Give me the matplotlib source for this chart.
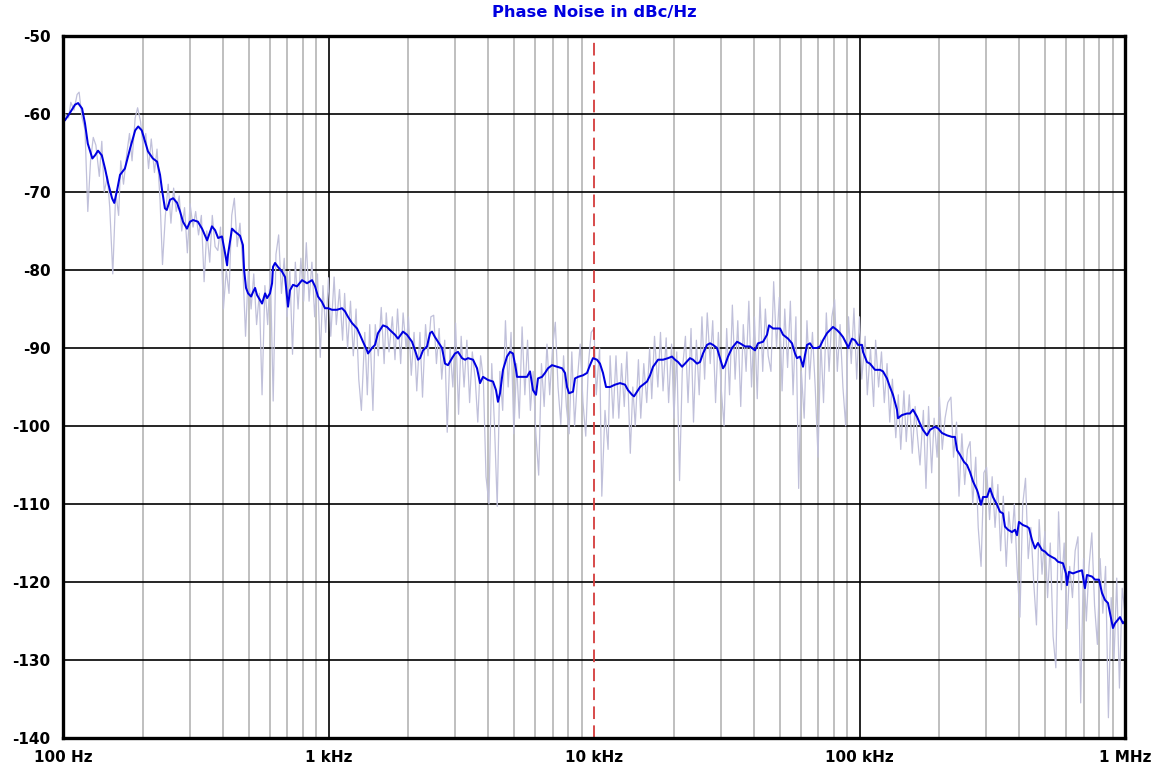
import matplotlib
matplotlib.use('Agg')
import matplotlib.pyplot as plt
from matplotlib.ticker import NullLocator

# ---------------- data ----------------
blue_freq = [
    100, 101.7, 106, 111, 114, 118, 121, 124, 129, 132,
    135.5, 140, 144, 148, 153, 156, 160, 164, 171, 179,
    187, 192, 198, 204, 209, 218, 226, 232, 236, 242,
    246, 253, 260, 269, 276, 283, 293, 301, 309, 322,
    334, 349, 364, 374, 384, 397, 408, 415, 418, 433,
    445, 464, 476, 481, 489, 498, 511, 520, 529, 538,
    562, 577, 587, 602, 613, 618, 629, 645, 668, 686,
    698, 704, 716, 735, 761, 795, 830, 867, 890, 913,
    945, 970, 996, 1031, 1076, 1124, 1154, 1184, 1226, 1281,
    1314, 1349, 1396, 1409, 1458, 1497, 1536, 1604, 1661, 1704,
    1780, 1827, 1908, 1975, 2063, 2118, 2174, 2212, 2270, 2350,
    2412, 2454, 2518, 2585, 2676, 2747, 2819, 2919, 2996, 3074,
    3184, 3268, 3354, 3503, 3626, 3721, 3819, 3988, 4165, 4275,
    4349, 4426, 4542, 4702, 4826, 4953, 5084, 5129, 5356, 5593,
    5741, 5892, 6047, 6152, 6370, 6538, 6710, 6948, 7255, 7578,
    7777, 7913, 8051, 8336, 8481, 8705, 9092, 9412, 9658, 9913,
    10260, 10530, 10810, 11100, 11490, 12000, 12530, 13090, 13430, 13910,
    14150, 14520, 14910, 15300, 15840, 16260, 16690, 17430, 18200, 19010,
    19670, 20190, 20730, 21460, 22020, 22990, 23600, 24430, 25080, 25740,
    26650, 27350, 28070, 29060, 29830, 30610, 31150, 31970, 33100, 34570,
    35480, 37060, 38690, 40410, 41470, 43320, 44840, 45630, 47240, 50200,
    51520, 53800, 55690, 57160, 58160, 59690, 61270, 62330, 63430, 65100,
    66820, 69170, 71000, 72870, 75440, 77430, 79480, 82280, 84450, 86680,
    89750, 90520, 93710, 96160, 98700, 102200, 103100, 106700, 109500, 114400,
    119500, 122600, 126900, 130200, 133700, 138400, 139600, 144500, 151000, 154900,
    159000, 164600, 169000, 173400, 179600, 184300, 192400, 197500, 204500, 213600,
    223100, 228900, 233000, 239100, 247500, 254100, 260700, 267600, 277000, 279500,
    286900, 291900, 302200, 310100, 318200, 329500, 338200, 347100, 353200, 362500,
    375200, 385100, 391900, 398700, 412800, 427400, 434900, 446300, 458100, 470100,
    486700, 499500, 512700, 530700, 544700, 559100, 584000, 599400, 604600, 615200,
    636800, 659300, 688500, 700600, 706700, 719100, 751000, 770800, 798000, 819000,
    840600, 862800, 877900, 901000, 916800, 957500, 982600, 1000000,
]
blue_dbc = [
    -61.0, -60.8, -59.9, -58.8, -58.6, -59.3, -61.2, -63.8, -65.7, -65.3,
    -64.7, -65.3, -67.0, -68.9, -70.8, -71.4, -69.7, -67.8, -67.0, -64.4,
    -62.1, -61.6, -62.1, -63.6, -64.8, -65.7, -66.1, -67.8, -69.7, -72.1,
    -72.3, -71.0, -70.8, -71.4, -72.5, -73.8, -74.7, -73.8, -73.6, -73.8,
    -74.7, -76.2, -74.4, -74.9, -75.9, -75.7, -77.9, -79.4, -78.1, -74.7,
    -75.1, -75.6, -76.8, -80.0, -82.3, -83.0, -83.4, -82.8, -82.3, -83.2,
    -84.3, -83.0, -83.6, -83.0, -81.7, -79.6, -79.1, -79.6, -80.2, -80.9,
    -83.4, -84.7, -82.6, -81.9, -82.1, -81.3, -81.7, -81.3, -82.1, -83.4,
    -84.1, -84.9, -84.9, -85.1, -85.1, -84.9, -85.3, -86.0, -86.8, -87.5,
    -88.3, -89.2, -90.3, -90.7, -90.0, -89.6, -88.1, -87.1, -87.3, -87.7,
    -88.3, -88.8, -87.9, -88.3, -89.2, -90.3, -91.5, -91.3, -90.3, -89.8,
    -88.1, -87.9, -88.6, -89.2, -90.0, -92.0, -92.2, -91.3, -90.7, -90.5,
    -91.3, -91.5, -91.3, -91.5, -92.6, -94.5, -93.7, -94.1, -94.3, -95.4,
    -96.9, -95.8, -92.8, -91.1, -90.5, -90.7, -92.8, -93.7, -93.7, -93.7,
    -93.0, -95.4, -96.0, -93.9, -93.7, -93.2, -92.6, -92.2, -92.4, -92.6,
    -93.2, -95.0, -95.8, -95.6, -93.9, -93.7, -93.5, -93.2, -92.2, -91.3,
    -91.5, -92.0, -93.2, -95.0, -95.0, -94.7, -94.5, -94.7, -95.4, -96.0,
    -96.2, -95.6, -95.0, -94.7, -94.3, -93.5, -92.4, -91.5, -91.5, -91.3,
    -91.1, -91.5, -91.8, -92.4, -92.0, -91.3, -91.5, -92.0, -91.8, -90.7,
    -89.6, -89.4, -89.6, -90.0, -91.3, -92.6, -92.2, -91.1, -90.0, -89.2,
    -89.4, -89.8, -89.8, -90.3, -89.4, -89.2, -88.3, -87.1, -87.5, -87.5,
    -88.3, -88.8, -89.4, -90.7, -91.3, -91.1, -92.4, -90.9, -89.6, -89.4,
    -90.0, -90.0, -89.8, -89.0, -88.1, -87.7, -87.3, -87.7, -88.1, -88.6,
    -89.6, -90.0, -88.8, -89.0, -89.6, -89.6, -90.5, -91.8, -92.0, -92.8,
    -92.8, -93.0, -93.9, -95.0, -96.0, -97.9, -99.0, -98.6, -98.4, -98.4,
    -97.9, -98.8, -99.7, -100.5, -101.2, -100.5, -100.1, -100.3, -100.9, -101.2,
    -101.4, -101.4, -103.1, -103.7, -104.6, -105.0, -105.9, -107.1, -108.2, -108.6,
    -110.1, -109.1, -109.1, -108.0, -109.1, -110.1, -111.0, -111.2, -112.9, -113.3,
    -113.6, -113.3, -114.0, -112.3, -112.7, -112.9, -113.1, -114.6, -115.7, -115.0,
    -115.9, -116.1, -116.5, -116.8, -117.0, -117.4, -117.6, -118.9, -120.4, -118.7,
    -118.9, -118.7, -118.5, -120.0, -120.8, -119.1, -119.3, -119.7, -119.7, -121.4,
    -122.3, -122.7, -124.0, -125.9, -125.3, -124.5, -125.3, -125.0,
]

# raw (unsmoothed) trace, sampled on an E96 frequency grid
raw_mantissa = [
    100, 102, 105, 107, 110, 113, 115, 118, 121, 124, 127, 130, 133, 137, 140, 143,
    147, 150, 154, 158, 162, 165, 169, 174, 178, 182, 187, 191, 196, 200, 205, 210,
    215, 221, 226, 232, 237, 243, 249, 255, 261, 267, 274, 280, 287, 294, 301, 309,
    316, 324, 332, 340, 348, 357, 365, 374, 383, 392, 402, 412, 422, 432, 442, 453,
    464, 475, 487, 499, 511, 523, 536, 549, 562, 576, 590, 604, 619, 634, 649, 665,
    681, 698, 715, 732, 750, 768, 787, 806, 825, 845, 866, 887, 909, 931, 953, 976,
]
raw_decades = [1, 10, 100, 1000]
raw_dbc = [
    # 100 Hz - 1 kHz
    -61.5, -60, -60.5, -58.5, -59.5, -57.5, -57.2, -60.5,
    -62, -72.5, -66, -63, -64, -68, -63.5, -70,
    -68, -72, -80.5, -70, -73, -66, -69, -65,
    -62.5, -66, -60.5, -59.2, -61, -64, -62.5, -67,
    -63.2, -67.5, -64.5, -71, -79.3, -73, -69, -74,
    -69.5, -72.5, -70.5, -75, -72, -77.8, -71.5, -74.5,
    -72.5, -75.5, -73, -81.5, -75, -79, -73, -77,
    -77.5, -74.5, -85, -80, -83, -73, -70.8, -77,
    -74, -79, -88.5, -80, -85, -80.5, -87, -83,
    -96, -82, -87, -80, -96.8, -78, -75.5, -83,
    -78.5, -86, -80, -90.8, -79, -85, -78.5, -84,
    -76.5, -84, -79, -86, -80.5, -91.2, -82, -88,
    # 1 kHz - 10 kHz
    -81, -88.5, -80.9, -87, -82.5, -89, -83, -90,
    -84, -91, -85, -94, -98, -88, -96, -87,
    -98, -87, -91, -84.8, -92, -85.5, -90.5, -86,
    -91.5, -85, -92, -85.5, -90, -86, -93.5, -88,
    -95.5, -88, -96.3, -87, -91, -86, -85.8, -92,
    -87.5, -94, -89, -100.8, -90, -95, -86.8, -98.5,
    -88.5, -95, -89, -97, -90.5, -94, -99.5, -91,
    -94, -106.5, -110, -92, -100, -110.3, -93, -98,
    -86.5, -95, -88, -101, -92, -99, -87.3, -96,
    -89, -98, -93, -101, -106.3, -92, -97.5, -89.5,
    -96, -90, -86.7, -95, -99.8, -91, -97.5, -101,
    -90.5, -100, -94, -89.5, -97, -101.3, -92, -88,
    # 10 kHz - 100 kHz
    -87.5, -96, -90, -109, -98, -103, -91, -99,
    -91, -99, -92, -97.5, -90.5, -103.5, -95, -100,
    -91.5, -99, -92, -97, -90, -96.5, -88.5, -95,
    -88, -95.5, -88.7, -97, -89.5, -99, -90.5, -107,
    -93, -88.5, -97, -87.5, -99.5, -89, -96, -86,
    -94, -85.5, -92, -86.5, -97, -88, -95, -100,
    -87.5, -96, -84.5, -94, -86.5, -97.5, -87, -93,
    -84, -95, -86, -96.5, -83.5, -93, -85, -91,
    -93, -81.5, -90, -83.5, -95.5, -85, -92.5, -84,
    -96, -86, -108, -93, -99, -86.5, -94, -88,
    -95, -104, -89, -97, -85.5, -93, -86, -83.8,
    -93, -87, -95, -100, -86, -92, -84.9, -94,
    # 100 kHz - 1 MHz
    -86, -94, -88.5, -96, -90, -97.5, -89, -95,
    -90.5, -97, -92, -99.5, -94, -101.5, -96, -103,
    -95.5, -102, -96, -103.5, -97.5, -101, -105, -98,
    -108, -97.5, -106, -99, -104, -96.3, -103, -99,
    -97, -96.3, -104, -99.5, -109, -101, -107.5, -103,
    -102, -110, -104, -113, -118, -106, -105.3, -112,
    -106.5, -113, -107.5, -116, -109, -118, -111, -115,
    -110, -118, -124.5, -110, -106.7, -117, -113, -120,
    -125.5, -112, -119, -113.5, -122, -115, -127, -131,
    -111, -121, -115, -126, -118, -122, -116, -114.2,
    -135.5, -117, -125, -118, -113.7, -123, -128, -117,
    -124, -118, -137.4, -122, -130, -119.5, -133.6, -120.8,
    # 1 MHz
    -124,
]
raw_freq = [m * d for d in raw_decades for m in raw_mantissa] + [1000000]

marker_freq = 10000
x_ticks = [100, 1000, 10000, 100000, 1000000]
x_labels = ['100 Hz', '1 kHz', '10 kHz', '100 kHz', '1 MHz']
y_ticks = [-50, -60, -70, -80, -90, -100, -110, -120, -130, -140]
y_labels = ['-50', '-60', '-70', '-80', '-90', '-100', '-110', '-120', '-130', '-140']
title = 'Phase Noise in dBc/Hz'

# ---------------- figure ----------------
W, H = 1156, 770
fig = plt.figure(figsize=(W / 100, H / 100), dpi=100)
L, R, T, B = 63, 1125, 36, 738
ax = fig.add_axes([L / W, 1 - B / H, (R - L) / W, (B - T) / H])
ax.set_xscale('log')
ax.set_xlim(100, 1e6)
ax.set_ylim(-140, -50)

# grid
for dec in [100, 1000, 10000, 100000]:
    for m in range(2, 10):
        ax.axvline(m * dec, color='#b4b4b4', lw=1.2, zorder=1)
for f in [1000, 100000]:
    ax.axvline(f, color='black', lw=1.2, zorder=1.2)
for y in y_ticks[1:-1]:
    ax.axhline(y, color='black', lw=1.2, zorder=1.2)

ax.plot(raw_freq, raw_dbc, color='#c0c0da', lw=0.9, zorder=2)
ax.axvline(marker_freq, color='#d43c3c', lw=1.3, dashes=(7, 3.5), zorder=2.5)
ax.plot(blue_freq, blue_dbc, color='#0000e0', lw=1.45, zorder=3)

ax.xaxis.set_minor_locator(NullLocator())
ax.set_xticks(x_ticks)
ax.set_xticklabels(x_labels)
ax.set_yticks(y_ticks)
ax.set_yticklabels(y_labels)
ax.tick_params(length=0, labelsize=11)
ax.tick_params(axis='x', pad=9)
ax.tick_params(axis='y', pad=9)
for lab in ax.get_xticklabels() + ax.get_yticklabels():
    lab.set_fontweight('bold')

for s in ax.spines.values():
    s.set_linewidth(2.4)
    s.set_color('black')
    s.set_zorder(5)

fig.text((L + R) / 2 / W, 1 - 13 / H, title, ha='center', va='center',
         color='#0000e0', fontweight='bold', fontsize=11.8)

fig.savefig('out.png', dpi=100)
